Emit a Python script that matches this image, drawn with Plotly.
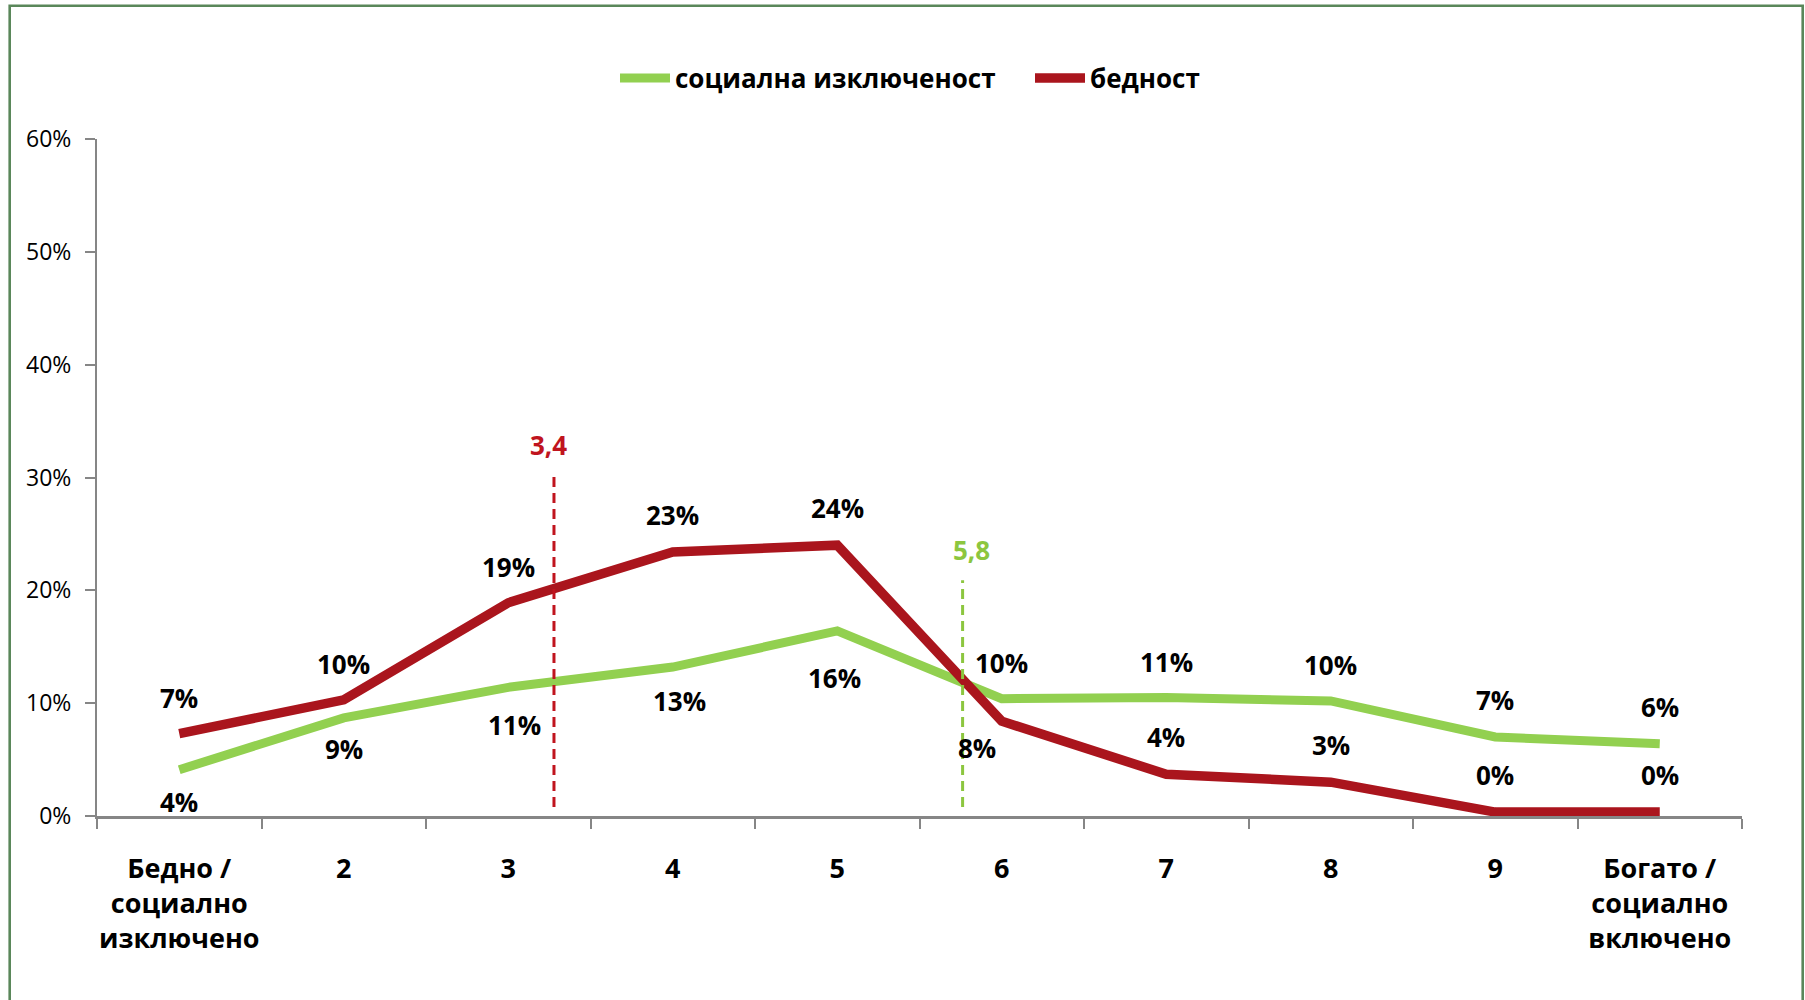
import plotly.graph_objects as go

# ---- data ----
categories = ["Бедно /<br>социално<br>изключено", "2", "3", "4", "5", "6", "7", "8", "9",
              "Богато /<br>социално<br>включено"]
cat_pos = [1, 2, 3, 4, 5, 6, 7, 8, 9, 10]
social_exclusion = [0.041, 0.087, 0.114, 0.132, 0.164, 0.104, 0.105, 0.102, 0.070, 0.064]
poverty = [0.073, 0.103, 0.189, 0.234, 0.240, 0.084, 0.037, 0.030, 0.0035, 0.0035]
social_exclusion_labels = ["4%", "9%", "11%", "13%", "16%", "10%", "11%", "10%", "7%", "6%"]
poverty_labels = ["7%", "10%", "19%", "23%", "24%", "8%", "4%", "3%", "0%", "0%"]
threshold_names = ["бедност", "социална изключеност"]
threshold_pos = [3.278, 5.762]
threshold_top = [0.302, 0.209]
threshold_text = ["3,4", "5,8"]
y_ticks = [0, 0.1, 0.2, 0.3, 0.4, 0.5, 0.6]

# ---- style ----
GREEN = "#92D050"
RED = "#AA151D"
RED_DASH = "#C0141E"
GREEN_DASH = "#8CC63F"
FRAME = "#5A875A"
FONT = "Open Sans"
# label offsets (px) : (xshift, yshift)
green_offsets = [(0, -32), (0, -31), (6, -38), (7, -34), (-3, -47), (0, 36), (0, 36), (0, 36), (0, 37), (0, 37)]
red_offsets = [(0, 36), (0, 36), (0, 36), (0, 37), (0, 37), (-25, -27), (0, 37), (0, 37), (0, 37), (0, 37)]

W, H = 1805, 1000
ML, MR, MT, MB = 97, 63, 139, 184
PW, PH = W - ML - MR, H - MT - MB


def px_x(p):
    return (p - ML) / PW


def px_y(p):
    return (H - MB - p) / PH


fig = go.Figure()
fig.add_trace(go.Scatter(x=cat_pos, y=social_exclusion, mode="lines", name="социална изключеност",
                         line=dict(color=GREEN, width=9)))
fig.add_trace(go.Scatter(x=cat_pos, y=poverty, mode="lines", name="бедност",
                         line=dict(color=RED, width=9.5)))

label_font = dict(family=FONT, size=26, color="black", weight="bold")
annotations = []
for xv, yv, t, (dx, dy) in zip(cat_pos, social_exclusion, social_exclusion_labels, green_offsets):
    annotations.append(dict(x=xv, y=yv, text=t, showarrow=False, xshift=dx, yshift=dy,
                            xanchor="center", yanchor="middle", font=label_font))
for xv, yv, t, (dx, dy) in zip(cat_pos, poverty, poverty_labels, red_offsets):
    annotations.append(dict(x=xv, y=yv, text=t, showarrow=False, xshift=dx, yshift=dy,
                            xanchor="center", yanchor="middle", font=label_font))

shapes = []
for pos, top, txt, col, dx in zip(threshold_pos, threshold_top, threshold_text,
                                  [RED_DASH, GREEN_DASH], [-5, 9]):
    shapes.append(dict(type="line", xref="x", yref="y", x0=pos, x1=pos, y0=0.008, y1=top,
                       line=dict(color=col, width=3, dash="10px,6px")))
    annotations.append(dict(x=pos, y=top, text=txt, showarrow=False, xshift=dx, yshift=30,
                            xanchor="center", yanchor="middle",
                            font=dict(family=FONT, size=26, color=col, weight="bold")))

# outer frame
shapes.append(dict(type="rect", xref="paper", yref="paper",
                   x0=px_x(9.7), x1=px_x(1802.7), y0=px_y(1010), y1=px_y(5.8),
                   line=dict(color=FRAME, width=2.6), fillcolor="rgba(0,0,0,0)", layer="below"))

fig.update_layout(
    width=W, height=H,
    margin=dict(l=ML, r=MR, t=MT, b=MB, autoexpand=False),
    paper_bgcolor="white", plot_bgcolor="white",
    font=dict(family=FONT, color="black"),
    showlegend=True,
    legend=dict(orientation="h", x=px_x(615), xanchor="left", y=px_y(78), yanchor="middle",
                font=dict(family=FONT, size=26, color="black", weight="bold"),
                itemwidth=50, entrywidth=350, entrywidthmode="pixels",
                bgcolor="rgba(0,0,0,0)"),
    annotations=annotations,
    shapes=shapes,
    xaxis=dict(range=[0.5, 10.5], tickmode="array", tickvals=cat_pos, ticktext=categories,
               ticks="", showgrid=False, zeroline=False, showline=True,
               linecolor="#868686", linewidth=2.5,
               tickfont=dict(family=FONT, size=27, color="black", weight="bold"),
               ticklabelstandoff=27,
               minor=dict(tickvals=[i + 0.5 for i in range(0, 11)], ticks="outside",
                          ticklen=10, tickcolor="#868686", tickwidth=1.5, showgrid=False)),
    yaxis=dict(range=[0, 0.6], tickmode="array", tickvals=y_ticks, tickformat=".0%",
               ticks="outside", ticklen=10, tickcolor="#868686", tickwidth=1.5,
               showgrid=False, zeroline=False, showline=True, linecolor="#868686", linewidth=2,
               tickfont=dict(family=FONT, size=23, color="black"), ticklabelstandoff=9),
)

fig.write_html("out.html", config={"displayModeBar": False},
               post_script="document.body.style.margin='0';")
